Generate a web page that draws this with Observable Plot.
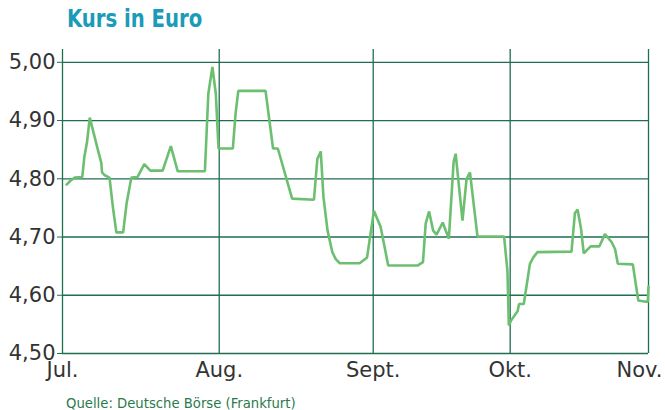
<!DOCTYPE html>
<html><head><meta charset="utf-8">
<script src="https://cdn.jsdelivr.net/npm/d3@7"></script>
<script src="https://cdn.jsdelivr.net/npm/@observablehq/plot@0.6"></script>
<style>
body{margin:0;background:#fff;width:665px;height:410px;overflow:hidden;font-family:"DejaVu Sans",sans-serif;}
#title{position:absolute;left:67px;top:5px;font:bold 24px "Liberation Sans Narrow","DejaVu Sans Condensed",sans-serif;color:#1a9bb8;white-space:nowrap;transform:scaleX(0.91);transform-origin:left top;}
#chart{position:absolute;left:0;top:40px;}
#caption{position:absolute;left:66px;top:394px;font:14.7px "Liberation Sans Narrow","DejaVu Sans Condensed",sans-serif;color:#2b7a4b;white-space:nowrap;}
</style></head>
<body>
<div id="title">Kurs in Euro</div>
<div id="chart"></div>
<div id="caption">Quelle: Deutsche Börse (Frankfurt)</div>
<script>
// trading days since 1 July
const tradingDay = [0.6,1.2,1.8,2.9,3.2,3.6,4.0,5.1,5.7,5.8,6.2,6.9,7.4,7.9,8.9,9.4,10.1,11.0,12.0,12.9,14.7,15.9,16.9,20.9,21.4,22.0,22.5,22.9,25.0,25.4,25.8,29.8,30.9,31.6,33.7,36.9,37.4,37.9,38.3,38.9,39.6,40.1,40.7,43.6,44.7,45.7,46.7,47.8,52.1,52.9,53.3,53.8,54.4,54.9,55.8,56.7,57.4,57.7,58.7,59.3,59.8,60.9,64.8,65.3,65.5,65.8,66.8,67.0,67.7,68.6,69.1,69.7,74.7,75.2,75.6,76.1,76.5,77.5,78.8,79.6,80.6,81.1,81.5,83.7,84.5,85.6,85.9,86.0];
const kurs = [4.790,4.797,4.802,4.803,4.837,4.863,4.905,4.854,4.827,4.811,4.806,4.802,4.751,4.708,4.708,4.757,4.802,4.803,4.825,4.814,4.814,4.856,4.813,4.813,4.946,4.992,4.946,4.852,4.852,4.912,4.951,4.951,4.852,4.852,4.766,4.764,4.834,4.847,4.768,4.711,4.674,4.662,4.655,4.655,4.665,4.745,4.717,4.651,4.651,4.657,4.723,4.744,4.711,4.704,4.725,4.697,4.829,4.843,4.728,4.800,4.811,4.701,4.701,4.642,4.548,4.556,4.573,4.585,4.585,4.654,4.665,4.674,4.675,4.741,4.747,4.714,4.672,4.684,4.684,4.705,4.691,4.679,4.654,4.653,4.591,4.589,4.589,4.615];
const monthTicks = [0, 23, 45.6, 65.7, 86];
const monthLabels = ["Jul.", "Aug.", "Sept.", "Okt.", "Nov."];
const priceTicks = [4.5, 4.6, 4.7, 4.8, 4.9, 5.0];
const priceLabels = ["4,50", "4,60", "4,70", "4,80", "4,90", "5,00"];

const data = tradingDay.map((t, i) => ({t, kurs: kurs[i]}));
const grid = "#1e6e50";
const labelColor = "#333333";

const chart = Plot.plot({
  width: 665, height: 352,
  marginLeft: 62, marginRight: 17, marginTop: 9, marginBottom: 39,
  style: {background: "transparent", fontFamily: "'DejaVu Sans', sans-serif", fontSize: "21px", overflow: "visible"},
  x: {domain: [0, 86], axis: null},
  y: {domain: [4.5, 5.022], axis: null},
  marks: [
    Plot.ruleY(priceTicks, {stroke: grid, strokeWidth: 1.3}),
    Plot.ruleX(monthTicks, {stroke: grid, strokeWidth: 1.3}),
    Plot.axisY({ticks: priceTicks, tickFormat: d => priceLabels[priceTicks.indexOf(d)], tickSize: 5, tickPadding: 2, stroke: grid, fill: labelColor, fontSize: 21, label: null}),
    Plot.text(d3.range(4), {x: i => monthTicks[i], text: i => monthLabels[i], frameAnchor: "bottom", lineAnchor: "top", dy: 9, fontSize: 21, fill: labelColor}),
    Plot.text([4], {x: i => monthTicks[i], text: i => monthLabels[i], frameAnchor: "bottom", lineAnchor: "top", textAnchor: "end", dx: 14, dy: 9, fontSize: 21, fill: labelColor}),
    Plot.line(data, {x: "t", y: "kurs", stroke: "#6cbf70", strokeWidth: 2.6, strokeLinejoin: "miter"})
  ]
});
document.getElementById("chart").append(chart);
</script>
</body></html>
